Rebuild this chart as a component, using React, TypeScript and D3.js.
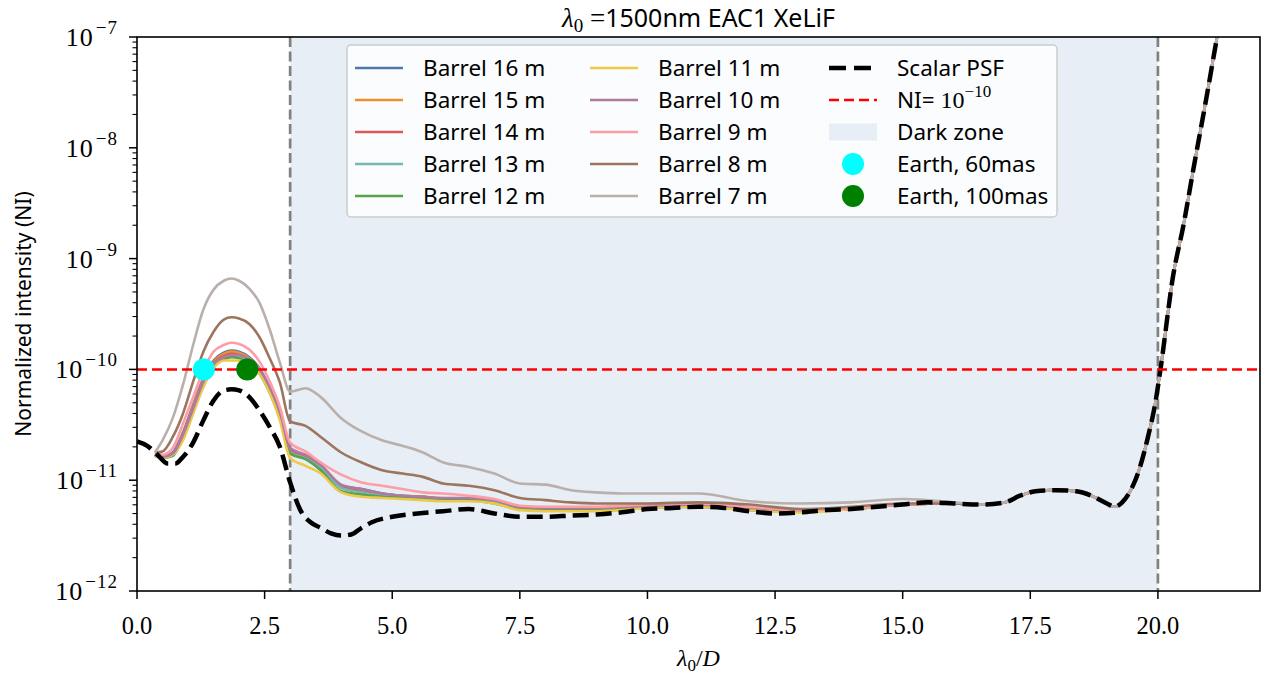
import * as d3 from 'd3';
import React from 'react';

// log10(NI)
const headX = [0.35, 0.5, 0.7, 0.9, 1.1, 1.3, 1.5, 1.7, 1.85, 2.0, 2.2, 2.4, 2.6, 2.8, 3.0, 3.3, 3.6, 4.0, 4.4, 4.8, 5.2, 5.6, 6.0, 6.5, 7.0, 7.5, 8.0, 8.5, 9.0, 9.5, 10, 11, 12, 13, 14, 15, 16];

const b16 = [-10.77, -10.79, -10.75, -10.57, -10.32, -10.08, -9.92, -9.85, -9.83, -9.84, -9.89, -9.99, -10.17, -10.4, -10.73, -10.78, -10.87, -11.05, -11.08, -11.12, -11.14, -11.15, -11.17, -11.16, -11.19, -11.25, -11.26, -11.26, -11.26, -11.25, -11.24, -11.23, -11.26, -11.28, -11.26, -11.22, -11.21];
const b15 = [-10.77, -10.79, -10.76, -10.58, -10.33, -10.09, -9.93, -9.86, -9.84, -9.85, -9.9, -10.0, -10.18, -10.41, -10.74, -10.79, -10.88, -11.06, -11.09, -11.13, -11.14, -11.15, -11.17, -11.17, -11.19, -11.25, -11.26, -11.26, -11.26, -11.25, -11.24, -11.23, -11.26, -11.28, -11.26, -11.22, -11.21];
const b14 = [-10.77, -10.79, -10.76, -10.59, -10.34, -10.1, -9.94, -9.88, -9.86, -9.87, -9.92, -10.02, -10.19, -10.42, -10.74, -10.79, -10.88, -11.06, -11.1, -11.13, -11.15, -11.16, -11.17, -11.17, -11.2, -11.25, -11.26, -11.26, -11.26, -11.25, -11.24, -11.23, -11.26, -11.28, -11.26, -11.22, -11.21];
const b13 = [-10.78, -10.8, -10.77, -10.6, -10.35, -10.11, -9.96, -9.9, -9.88, -9.89, -9.94, -10.03, -10.2, -10.43, -10.75, -10.8, -10.89, -11.07, -11.11, -11.14, -11.15, -11.16, -11.18, -11.18, -11.2, -11.26, -11.27, -11.27, -11.27, -11.26, -11.25, -11.24, -11.27, -11.28, -11.26, -11.22, -11.21];
const b12 = [-10.78, -10.8, -10.78, -10.61, -10.36, -10.12, -9.97, -9.91, -9.89, -9.9, -9.95, -10.04, -10.21, -10.44, -10.76, -10.81, -10.91, -11.1, -11.13, -11.15, -11.16, -11.17, -11.18, -11.18, -11.21, -11.26, -11.27, -11.27, -11.27, -11.26, -11.25, -11.24, -11.27, -11.28, -11.26, -11.22, -11.21];
const b11 = [-10.78, -10.8, -10.77, -10.64, -10.4, -10.16, -9.99, -9.92, -9.92, -9.92, -9.95, -10.04, -10.21, -10.46, -10.8, -10.87, -10.94, -11.11, -11.15, -11.16, -11.17, -11.18, -11.19, -11.19, -11.21, -11.27, -11.28, -11.28, -11.28, -11.27, -11.25, -11.24, -11.27, -11.29, -11.26, -11.22, -11.21];
const b10 = [-10.77, -10.79, -10.76, -10.59, -10.35, -10.11, -9.95, -9.89, -9.87, -9.87, -9.91, -10.0, -10.16, -10.38, -10.71, -10.77, -10.86, -11.04, -11.08, -11.12, -11.14, -11.15, -11.16, -11.16, -11.18, -11.24, -11.25, -11.25, -11.25, -11.24, -11.23, -11.22, -11.25, -11.27, -11.25, -11.22, -11.21];
const b9 = [-10.75, -10.77, -10.71, -10.49, -10.25, -10.01, -9.84, -9.78, -9.76, -9.77, -9.82, -9.93, -10.11, -10.34, -10.66, -10.74, -10.84, -10.95, -11.02, -11.05, -11.08, -11.11, -11.12, -11.14, -11.17, -11.23, -11.24, -11.24, -11.24, -11.23, -11.22, -11.21, -11.24, -11.27, -11.25, -11.22, -11.21];
const b8 = [-10.75, -10.74, -10.61, -10.4, -10.11, -9.84, -9.66, -9.55, -9.53, -9.54, -9.59, -9.71, -9.9, -10.12, -10.47, -10.51, -10.61, -10.75, -10.84, -10.91, -10.94, -10.97, -11.03, -11.05, -11.09, -11.16, -11.18, -11.2, -11.21, -11.21, -11.21, -11.2, -11.22, -11.26, -11.24, -11.21, -11.21];
const b7 = [-10.75, -10.64, -10.44, -10.14, -9.78, -9.46, -9.28, -9.2, -9.18, -9.2, -9.27, -9.4, -9.64, -9.94, -10.2, -10.17, -10.25, -10.44, -10.56, -10.64, -10.69, -10.75, -10.84, -10.88, -10.94, -11.03, -11.04, -11.09, -11.11, -11.12, -11.12, -11.12, -11.19, -11.21, -11.2, -11.17, -11.2];

const psfX = [0, 0.2, 0.4, 0.6, 0.75, 0.9, 1.1, 1.3, 1.5, 1.7, 1.85, 2.0, 2.2, 2.4, 2.6, 2.8, 3.0, 3.2, 3.4, 3.6, 3.8, 4.0, 4.2, 4.4, 4.6, 5.0, 5.5, 6.0, 6.5, 7.0, 7.5, 8.0, 8.5, 9.0, 9.5, 10.0, 10.5, 11.0, 11.5, 12.0, 12.5, 13.0, 13.5, 14.0, 14.5, 15.0, 15.5, 16.0];
const psfLog = [-10.65, -10.69, -10.77, -10.85, -10.85, -10.79, -10.66, -10.46, -10.28, -10.19, -10.18, -10.19, -10.25, -10.37, -10.52, -10.7, -11.02, -11.27, -11.38, -11.43, -11.48, -11.5, -11.49, -11.43, -11.38, -11.33, -11.3, -11.28, -11.26, -11.3, -11.33, -11.33, -11.32, -11.31, -11.29, -11.26, -11.25, -11.24, -11.25, -11.28, -11.3, -11.29, -11.27, -11.26, -11.24, -11.22, -11.2, -11.21];

// beyond x = 16 every curve sits on the scalar PSF
const tailX = [16.5, 17.0, 17.3, 17.6, 18.0, 18.4, 18.7, 19.0, 19.15, 19.3, 19.5, 19.65, 19.8, 19.95, 20.05, 20.3, 20.5, 20.7, 20.95, 21.16, 21.4];
const tailLog = [-11.22, -11.2, -11.14, -11.1, -11.09, -11.1, -11.14, -11.21, -11.24, -11.2, -11.06, -10.88, -10.62, -10.3, -10.0, -9.15, -8.7, -8.18, -7.55, -7.0, -6.45];

const barrelLabels = ['Barrel 16 m', 'Barrel 15 m', 'Barrel 14 m', 'Barrel 13 m', 'Barrel 12 m', 'Barrel 11 m', 'Barrel 10 m', 'Barrel 9 m', 'Barrel 8 m', 'Barrel 7 m'];
const barrelLogs = [b16, b15, b14, b13, b12, b11, b10, b9, b8, b7];

const earthX = [1.31, 2.16];
const earthColors = ['#00ffff', '#008000'];
const earthLabels = ['Earth, 60mas', 'Earth, 100mas'];
const niLevel = 1e-10;
const darkZone = [3, 20];
const xTicks = [0, 2.5, 5, 7.5, 10, 12.5, 15, 17.5, 20];
const yDecades = [-12, -11, -10, -9, -8, -7];

const W = 1263;
const H = 677;
const M = { left: 137, right: 1260, top: 37, bottom: 591 };
const SANS = "'Noto Sans', 'DejaVu Sans', sans-serif";
const SERIF = "'Liberation Serif', 'DejaVu Serif', serif";
const ZONE = '#e7eef5';
const LEG_FS = 22.5;

const App: React.FC = () => {
  const x = d3.scaleLinear().domain([0, 22]).range([M.left, M.right]);
  const y = d3.scaleLog().domain([1e-12, 1e-7]).range([M.bottom, M.top]);

  const line = d3
    .line<[number, number]>()
    .x((d) => x(d[0]))
    .y((d) => y(d[1]))
    .curve(d3.curveMonotoneX);

  const tail: [number, number][] = tailX.map((v, i) => [v, Math.pow(10, tailLog[i])]);
  const barrels = barrelLogs.map((arr, k) => ({
    label: barrelLabels[k],
    color: d3.schemeTableau10[k],
    pts: (headX.map((v, i) => [v, Math.pow(10, arr[i])]) as [number, number][]).concat(tail),
  }));
  const psf: [number, number][] = (psfX.map((v, i) => [v, Math.pow(10, psfLog[i])]) as [number, number][]).concat(tail);

  const minor: number[] = [];
  yDecades.slice(0, -1).forEach((e) => {
    for (let k = 2; k < 10; k++) minor.push(k * Math.pow(10, e));
  });

  // legend layout
  const lg = { x: 347, y: 45, w: 710, h: 172 };
  const rowY = (r: number) => 68 + r * 32;
  const colX = [355, 590, 829];
  const handleW = 48;
  const textGap = 20;

  return (
    <div style={{ position: 'absolute', left: 0, top: 0 }}>
      <svg width={W} height={H} style={{ display: 'block', background: '#fff' }}>
        <defs>
          <clipPath id="plot">
            <rect x={M.left} y={M.top} width={M.right - M.left} height={M.bottom - M.top} />
          </clipPath>
        </defs>

        <rect x={x(darkZone[0])} y={M.top} width={x(darkZone[1]) - x(darkZone[0])} height={M.bottom - M.top} fill={ZONE} />
        {darkZone.map((d) => (
          <line key={d} x1={x(d)} x2={x(d)} y1={M.top} y2={M.bottom} stroke="#808080" strokeWidth={2.7} strokeDasharray="10,4.5" />
        ))}

        <g clipPath="url(#plot)">
          {barrels.map((b) => (
            <path key={b.label} d={line(b.pts) || ''} fill="none" stroke={b.color} strokeWidth={2.6} />
          ))}
          <path d={line(psf) || ''} fill="none" stroke="#000" strokeWidth={4.5} strokeDasharray="16,7" />
          <line x1={M.left} x2={M.right} y1={y(niLevel)} y2={y(niLevel)} stroke="#ff0000" strokeWidth={2.5} strokeDasharray="10,5" />
          {earthX.map((e, i) => (
            <circle key={e} cx={x(e)} cy={y(niLevel)} r={11} fill={earthColors[i]} />
          ))}
        </g>

        {/* axes frame */}
        <rect x={M.left} y={M.top} width={M.right - M.left} height={M.bottom - M.top} fill="none" stroke="#000" strokeWidth={1.6} />

        {/* x ticks */}
        {xTicks.map((t) => (
          <g key={t}>
            <line x1={x(t)} x2={x(t)} y1={M.bottom} y2={M.bottom + 8} stroke="#000" strokeWidth={1.5} />
            <text x={x(t)} y={M.bottom + 43} textAnchor="middle" fontFamily={SERIF} fontSize={24.5}>
              {t.toFixed(1)}
            </text>
          </g>
        ))}

        {/* y ticks */}
        {minor.map((m) => (
          <line key={m} x1={M.left - 4.5} x2={M.left} y1={y(m)} y2={y(m)} stroke="#000" strokeWidth={1.1} />
        ))}
        {yDecades.map((e) => (
          <g key={e}>
            <line x1={M.left - 8} x2={M.left} y1={y(Math.pow(10, e))} y2={y(Math.pow(10, e))} stroke="#000" strokeWidth={1.5} />
            <text x={M.left - 19} y={y(Math.pow(10, e)) + 9} textAnchor="end" fontFamily={SERIF} fontSize={26} letterSpacing={1}>
              10
              <tspan dx={2} dy={-12} fontSize={19}>
                {'\u2212' + Math.abs(e)}
              </tspan>
            </text>
          </g>
        ))}

        {/* labels */}
        <text x={(M.left + M.right) / 2} y={27} textAnchor="middle" fontSize={25} fontFamily={SANS}>
          <tspan fontFamily={SERIF} fontStyle="italic" fontSize={27}>
            λ
          </tspan>
          <tspan fontFamily={SERIF} fontSize={19} dy={5}>
            0
          </tspan>
          <tspan fontFamily={SERIF} fontSize={27} dy={-5}>
            {' ='}
          </tspan>
          <tspan>1500nm EAC1 XeLiF</tspan>
        </text>
        <text x={(M.left + M.right) / 2} y={666} textAnchor="middle" fontFamily={SERIF} fontSize={24}>
          <tspan fontStyle="italic">λ</tspan>
          <tspan fontSize={17} dy={5}>
            0
          </tspan>
          <tspan dy={-5}>/</tspan>
          <tspan fontStyle="italic">D</tspan>
        </text>
        <text transform={`translate(31, ${(M.top + M.bottom) / 2}) rotate(-90)`} textAnchor="middle" fontFamily={SANS} fontSize={21}>
          Normalized intensity (NI)
        </text>

        {/* legend */}
        <g>
          <rect x={lg.x} y={lg.y} width={lg.w} height={lg.h} rx={4} fill="#fff" fillOpacity={0.8} stroke="#cccccc" strokeWidth={1.5} />
          {barrels.map((b, i) => {
            const c = Math.floor(i / 5);
            const r = i % 5;
            return (
              <g key={b.label}>
                <line x1={colX[c]} x2={colX[c] + handleW} y1={rowY(r)} y2={rowY(r)} stroke={b.color} strokeWidth={2.6} />
                <text x={colX[c] + handleW + textGap} y={rowY(r) + 8} fontFamily={SANS} fontSize={LEG_FS}>
                  {b.label}
                </text>
              </g>
            );
          })}
          <line x1={colX[2]} x2={colX[2] + handleW} y1={rowY(0)} y2={rowY(0)} stroke="#000" strokeWidth={4.5} strokeDasharray="17,8" />
          <text x={colX[2] + handleW + textGap} y={rowY(0) + 8} fontFamily={SANS} fontSize={LEG_FS}>
            Scalar PSF
          </text>
          <line x1={colX[2]} x2={colX[2] + handleW} y1={rowY(1)} y2={rowY(1)} stroke="#ff0000" strokeWidth={2.5} strokeDasharray="10,5" />
          <text x={colX[2] + handleW + textGap} y={rowY(1) + 8} fontFamily={SANS} fontSize={LEG_FS}>
            NI=
            <tspan fontFamily={SERIF} fontSize={24}>
              {' 10'}
            </tspan>
            <tspan fontFamily={SERIF} fontSize={17} dy={-11}>
              {'\u221210'}
            </tspan>
          </text>
          <rect x={colX[2]} y={rowY(2) - 8.5} width={handleW} height={17} fill={ZONE} />
          <text x={colX[2] + handleW + textGap} y={rowY(2) + 8} fontFamily={SANS} fontSize={LEG_FS}>
            Dark zone
          </text>
          {earthLabels.map((l, i) => (
            <g key={l}>
              <circle cx={colX[2] + handleW / 2} cy={rowY(3 + i)} r={11} fill={earthColors[i]} />
              <text x={colX[2] + handleW + textGap} y={rowY(3 + i) + 8} fontFamily={SANS} fontSize={LEG_FS}>
                {l}
              </text>
            </g>
          ))}
        </g>
      </svg>
    </div>
  );
};

export default App;
